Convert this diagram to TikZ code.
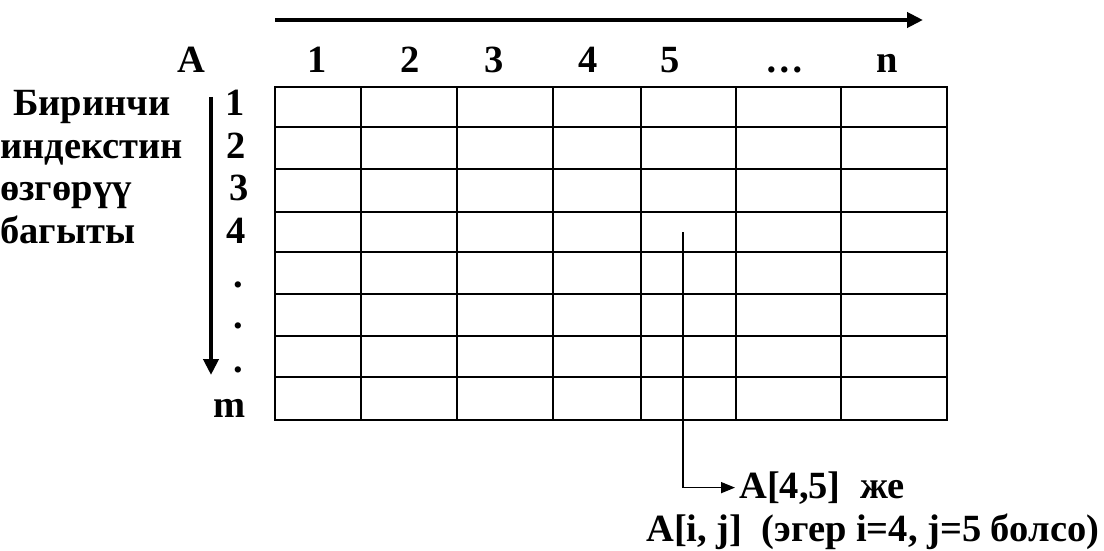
\documentclass[tikz,border=0pt]{standalone}
\usepackage{fontspec}
\setmainfont{Liberation Serif}
\usetikzlibrary{arrows.meta}
\tikzset{
  lbl/.style={font=\fontsize{38.5}{44}\selectfont\bfseries, inner sep=0pt},
  gridline/.style={line width=2pt, line cap=rect},
  bigarrow/.style={line width=4pt, -{Triangle[length=16pt,width=15pt]}},
  thinarrow/.style={line width=1.6pt, -{Triangle[length=14pt,width=11pt]}},
}
\begin{document}
\begin{tikzpicture}[x=1pt,y=-1pt]
\useasboundingbox (0,0) rectangle (1104,551);
% grid
\foreach \yy in {87,126.5,169,211.5,252,294,336,377,420}
  \draw[gridline] (275,\yy) -- (947,\yy);
\foreach \xx in {275,361,457,553,641,736,841,947}
  \draw[gridline] (\xx,87) -- (\xx,420);
% column headers
\node[lbl,anchor=base] (hA) at (191,73) {A};
\node[lbl,anchor=base] (h1) at (317,73) {1};
\node[lbl,anchor=base] (h2) at (410,73) {2};
\node[lbl,anchor=base] (h3) at (494,73) {3};
\node[lbl,anchor=base] (h4) at (588,73) {4};
\node[lbl,anchor=base] (h5) at (670,73) {5};
\node[lbl,anchor=base] (h6) at (785,73) {…};
\node[lbl,anchor=base] (h7) at (887,73) {n};
% row labels
\node[lbl,anchor=base] (r1) at (235,115) {1};
\node[lbl,anchor=base] (r2) at (236,158) {2};
\node[lbl,anchor=base] (r3) at (239,200) {3};
\node[lbl,anchor=base] (r4) at (236,243) {4};
\node[lbl,anchor=base] (r5) at (238,287) {.};
\node[lbl,anchor=base] (r6) at (238,328) {.};
\node[lbl,anchor=base] (r7) at (238,372) {.};
\node[lbl,anchor=base] (r8) at (230,417) {m};
% left description
\node[lbl,anchor=base west] (t1) at (13,115) {Биринчи};
\node[lbl,anchor=base west] (t2) at (0,158) {индекстин};
\node[lbl,anchor=base west] (t3) at (0,200) {өзгөрүү};
\node[lbl,anchor=base west] (t4) at (0,243) {багыты};
% direction arrows
\coordinate (ha0) at (275,20);
\coordinate (ha1) at (923,20);
\draw[bigarrow] (ha0) -- (ha1);
\coordinate (va0) at (211,97);
\coordinate (va1) at (211,375);
\draw[bigarrow] (va0) -- (va1);
% element pointer
\coordinate (cell45) at (683,232);
\node[lbl,anchor=base west,inner xsep=4pt] (el) at (735,498) {A[4,5]\ \ же};
\node[lbl,anchor=base west] (el2) at (646,541) {A[i, j]\ \ (эгер i=4, j=5 болсо)};
\draw[thinarrow] (cell45) |- (el.west);
\end{tikzpicture}
\end{document}
